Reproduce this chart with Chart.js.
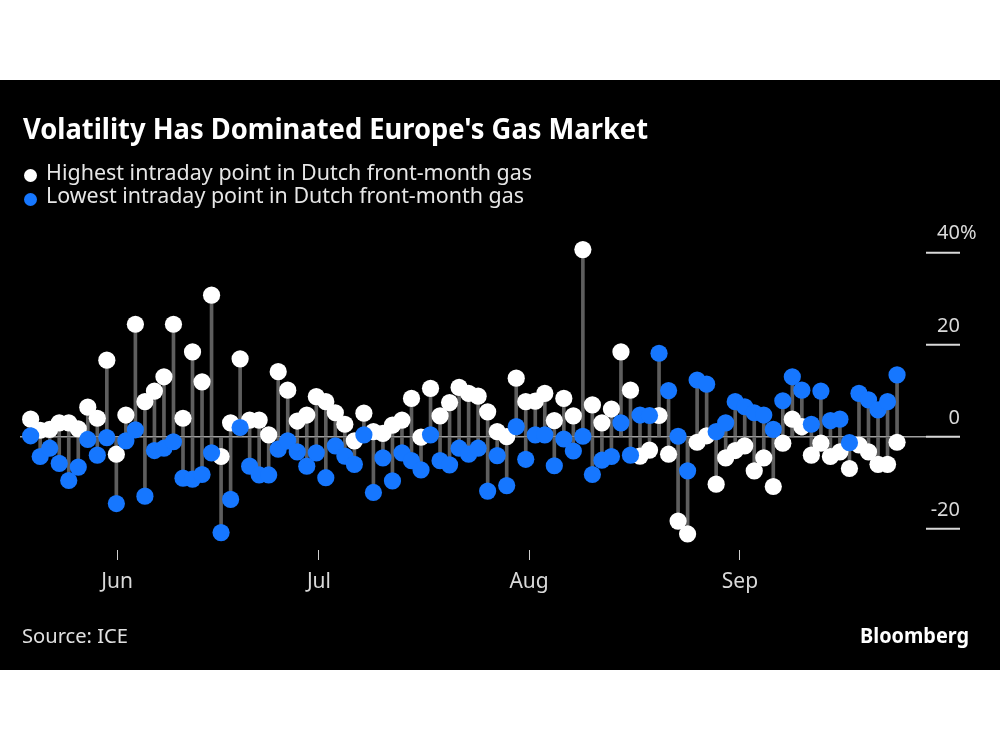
<!DOCTYPE html>
<html><head><meta charset="utf-8">
<script src="https://cdn.jsdelivr.net/npm/chart.js@4.4.0/dist/chart.umd.min.js"></script>
<style>
html,body{margin:0;padding:0;background:#fff;width:1000px;height:750px;overflow:hidden;}
#panel{position:absolute;left:0;top:80px;width:1000px;height:590px;background:#000;}
#chart{position:absolute;left:0;top:0;width:1000px;height:590px;}
.txt{position:absolute;white-space:nowrap;font-family:"Noto Sans",sans-serif;line-height:1;transform-origin:0 0;}
.dot{position:absolute;width:13px;height:13px;border-radius:50%;}
</style></head>
<body>
<div id="panel">
<canvas id="chart" width="1000" height="590"></canvas>
<div id="title" class="txt" data-w="625" style="left:22.7px;top:32.5px;font-size:29px;font-weight:700;color:#fff;">Volatility Has Dominated Europe's Gas Market</div>
<div class="dot" style="left:23.5px;top:89.2px;background:#fff;"></div>
<div id="leg1" class="txt" data-w="486" style="left:46px;top:82.4px;font-size:21px;color:#e6e6e6;">Highest intraday point in Dutch front-month gas</div>
<div class="dot" style="left:23.5px;top:112.8px;background:#1677ff;"></div>
<div id="leg2" class="txt" data-w="478" style="left:46px;top:105.4px;font-size:21px;color:#e6e6e6;">Lowest intraday point in Dutch front-month gas</div>
<div id="src" class="txt" data-w="106" style="left:22px;top:546.2px;font-size:20px;color:#e0e0e0;">Source: ICE</div>
<div id="brand" class="txt" data-w="109" data-right="969" style="left:860px;top:545.4px;font-size:21px;font-weight:700;color:#fff;">Bloomberg</div>
</div>
<script>
// Trading days shown on the chart
const dates = [
 '2023-05-19','2023-05-22','2023-05-23','2023-05-24','2023-05-25','2023-05-26','2023-05-29','2023-05-30','2023-05-31',
 '2023-06-01','2023-06-02','2023-06-05','2023-06-06','2023-06-07','2023-06-08','2023-06-09','2023-06-12','2023-06-13','2023-06-14','2023-06-15','2023-06-16','2023-06-19','2023-06-20','2023-06-21','2023-06-22','2023-06-23','2023-06-26','2023-06-27','2023-06-28','2023-06-29','2023-06-30',
 '2023-07-03','2023-07-04','2023-07-05','2023-07-06','2023-07-07','2023-07-10','2023-07-11','2023-07-12','2023-07-13','2023-07-14','2023-07-17','2023-07-18','2023-07-19','2023-07-20','2023-07-21','2023-07-24','2023-07-25','2023-07-26','2023-07-27','2023-07-28','2023-07-31',
 '2023-08-01','2023-08-02','2023-08-03','2023-08-04','2023-08-07','2023-08-08','2023-08-09','2023-08-10','2023-08-11','2023-08-14','2023-08-15','2023-08-16','2023-08-17','2023-08-18','2023-08-21','2023-08-22','2023-08-23','2023-08-24','2023-08-25','2023-08-28','2023-08-29','2023-08-30','2023-08-31',
 '2023-09-01','2023-09-04','2023-09-05','2023-09-06','2023-09-07','2023-09-08','2023-09-11','2023-09-12','2023-09-13','2023-09-14','2023-09-15','2023-09-18','2023-09-19','2023-09-20','2023-09-21','2023-09-22','2023-09-25'
];
// Highest intraday point (% change)
const highs = [
 3.8,1.4,1.6,3.0,3.0,1.7,6.4,4.0,16.6,
 -3.8,4.7,24.4,7.6,9.9,13.0,24.4,4.0,18.4,11.9,30.7,-4.3,3.0,16.9,3.6,3.6,0.4,14.1,10.1,3.4,4.7,8.7,
 7.6,5.2,2.7,-0.9,5.1,1.1,0.7,2.5,3.6,8.3,-0.1,10.5,4.5,7.4,10.7,9.4,8.8,5.4,1.1,0.0,
 12.7,7.6,7.7,9.4,3.5,8.3,4.5,40.6,6.9,3.0,6.0,18.4,10.1,-4.2,-2.9,4.6,-3.8,-18.3,-21.1,-1.2,0.2,-10.3,-4.6,-3.0,
 -2.0,-7.4,-4.6,-10.8,-1.4,3.8,2.2,-4.0,-1.4,-4.3,-3.3,-6.9,-1.8,-3.3,-6.0,-6.0,-1.2
];
// Lowest intraday point (% change)
const lows = [
 0.2,-4.3,-2.5,-5.8,-9.5,-6.6,-0.6,-4.0,-0.2,
 -14.5,-0.9,1.5,-12.9,-3.0,-2.5,-1.1,-9.0,-9.2,-8.2,-3.5,-20.8,-13.6,2.0,-6.4,-8.3,-8.3,-2.7,-0.9,-3.3,-6.4,-3.5,
 -8.9,-2.0,-4.2,-6.0,0.4,-12.1,-4.6,-9.6,-3.5,-5.2,-7.2,0.4,-5.2,-6.1,-2.5,-3.8,-2.5,-11.8,-4.1,-10.6,
 2.2,-4.9,0.4,0.4,-6.3,-0.5,-3.1,0.1,-8.2,-5.1,-4.3,3.0,-4.0,4.7,4.6,18.1,10.0,0.1,-7.4,12.3,11.4,1.1,3.0,7.6,
 6.5,5.2,4.7,1.6,7.8,13.0,10.1,2.7,9.9,3.5,3.8,-1.3,9.4,8.0,5.8,7.6,13.4
];
// x-axis month labels and where they sit (in trading-day index units)
const monthLabels = ['Jun','Jul','Aug','Sep'];
const monthTickAt = [9.07, 30.28, 52.35, 74.5];
// y-axis ticks
const yTickValues = [-20, 0, 20, 40];
const yTickLabels = ['-20', '0', '20', '40'];
const yUnit = '%';

const BLUE = '#1677ff';
const STEM = '#5e5e5e';
const FONT = '"Noto Sans", sans-serif';

const yLabelPlugin = {
  id: 'yLabels',
  afterDraw(chart) {
    const ctx = chart.ctx, y = chart.scales.y;
    ctx.save();
    ctx.font = '20px ' + FONT;
    ctx.fillStyle = '#d9d9d9';
    ctx.textBaseline = 'alphabetic';
    yTickValues.forEach((v, i) => {
      const py = y.getPixelForValue(v) - 13;
      ctx.textAlign = 'right';
      ctx.fillText(yTickLabels[i], 960, py);
      if (i === yTickValues.length - 1) {
        ctx.textAlign = 'left';
        ctx.fillText(yUnit, 960, py);
      }
    });
    ctx.restore();
  }
};

const idx = dates.map((d, i) => i);

new Chart(document.getElementById('chart'), {
  type: 'scatter',
  data: {
    datasets: [
      { type: 'bar', label: 'stemHigh', data: highs.map((v, i) => ({ x: idx[i], y: [0, v] })),
        backgroundColor: STEM, barThickness: 3, grouped: false, order: 4, borderWidth: 0 },
      { type: 'bar', label: 'stemLow', data: lows.map((v, i) => ({ x: idx[i], y: [0, v] })),
        backgroundColor: STEM, barThickness: 3, grouped: false, order: 3, borderWidth: 0 },
      { type: 'scatter', label: 'Highest intraday point', data: highs.map((v, i) => ({ x: idx[i], y: v })),
        backgroundColor: '#ffffff', pointRadius: 8.6, borderWidth: 0, order: 2, clip: false },
      { type: 'scatter', label: 'Lowest intraday point', data: lows.map((v, i) => ({ x: idx[i], y: v })),
        backgroundColor: BLUE, pointRadius: 8.6, borderWidth: 0, order: 1, clip: false }
    ]
  },
  options: {
    responsive: false,
    animation: false,
    events: [],
    layout: { padding: { left: 20, top: 163.1, right: 0, bottom: 0 } },
    plugins: { legend: { display: false }, tooltip: { enabled: false } },
    scales: {
      x: {
        type: 'linear', min: -1.12, max: 94.04, offset: false,
        afterBuildTicks: s => { s.ticks = monthTickAt.map(v => ({ value: v })); },
        afterFit: s => { s.height = 120; },
        border: { display: false },
        grid: { offset: false, drawOnChartArea: false, drawTicks: true, tickLength: 10, tickColor: '#cfcfcf', tickWidth: 1 },
        ticks: { callback: (v, i) => monthLabels[i], color: '#d9d9d9', font: { family: FONT, size: 21 },
                 padding: 9, maxRotation: 0, autoSkip: false }
      },
      y: {
        type: 'linear', position: 'right', min: -24.58, max: 42,
        afterBuildTicks: s => { s.ticks = yTickValues.map(v => ({ value: v })); },
        afterFit: s => { s.width = 74; },
        border: { display: false },
        grid: {
          color: c => (c.tick && c.tick.value === 0) ? '#a0a0a0' : 'rgba(0,0,0,0)',
          lineWidth: 1.5, drawTicks: true, tickLength: 34, tickColor: '#d9d9d9', tickWidth: 2
        },
        ticks: { display: false }
      }
    }
  },
  plugins: [yLabelPlugin]
});

function fitTexts() {
  document.querySelectorAll('.txt[data-w]').forEach(el => {
    el.style.transform = '';
    const w = el.getBoundingClientRect().width;
    const target = parseFloat(el.dataset.w);
    if (el.dataset.right) el.style.left = (parseFloat(el.dataset.right) - target) + 'px';
    el.style.transform = 'scaleX(' + (target / w) + ')';
  });
}
fitTexts();
if (document.fonts && document.fonts.ready) document.fonts.ready.then(fitTexts);
</script>
</body></html>
